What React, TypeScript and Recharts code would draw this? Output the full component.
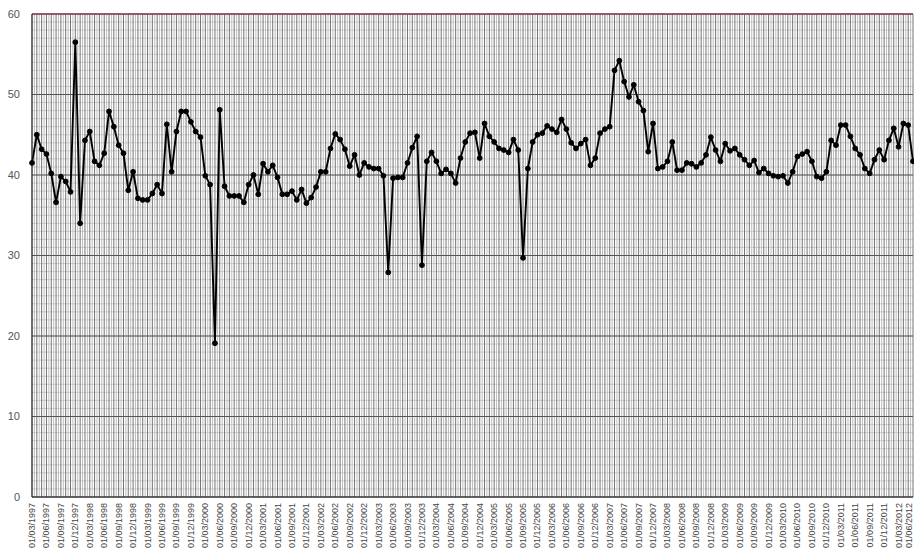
import React from 'react';
import { LineChart, Line, XAxis, YAxis, CartesianGrid, ReferenceLine } from 'recharts';

const dates = [
  '01/03/1997', '01/04/1997', '01/05/1997', '01/06/1997', '01/07/1997', '01/08/1997', '01/09/1997', '01/10/1997', '01/11/1997', '01/12/1997',
  '01/01/1998', '01/02/1998', '01/03/1998', '01/04/1998', '01/05/1998', '01/06/1998', '01/07/1998', '01/08/1998', '01/09/1998', '01/10/1998', '01/11/1998', '01/12/1998',
  '01/01/1999', '01/02/1999', '01/03/1999', '01/04/1999', '01/05/1999', '01/06/1999', '01/07/1999', '01/08/1999', '01/09/1999', '01/10/1999', '01/11/1999', '01/12/1999',
  '01/01/2000', '01/02/2000', '01/03/2000', '01/04/2000', '01/05/2000', '01/06/2000', '01/07/2000', '01/08/2000', '01/09/2000', '01/10/2000', '01/11/2000', '01/12/2000',
  '01/01/2001', '01/02/2001', '01/03/2001', '01/04/2001', '01/05/2001', '01/06/2001', '01/07/2001', '01/08/2001', '01/09/2001', '01/10/2001', '01/11/2001', '01/12/2001',
  '01/01/2002', '01/02/2002', '01/03/2002', '01/04/2002', '01/05/2002', '01/06/2002', '01/07/2002', '01/08/2002', '01/09/2002', '01/10/2002', '01/11/2002', '01/12/2002',
  '01/01/2003', '01/02/2003', '01/03/2003', '01/04/2003', '01/05/2003', '01/06/2003', '01/07/2003', '01/08/2003', '01/09/2003', '01/10/2003', '01/11/2003', '01/12/2003',
  '01/01/2004', '01/02/2004', '01/03/2004', '01/04/2004', '01/05/2004', '01/06/2004', '01/07/2004', '01/08/2004', '01/09/2004', '01/10/2004', '01/11/2004', '01/12/2004',
  '01/01/2005', '01/02/2005', '01/03/2005', '01/04/2005', '01/05/2005', '01/06/2005', '01/07/2005', '01/08/2005', '01/09/2005', '01/10/2005', '01/11/2005', '01/12/2005',
  '01/01/2006', '01/02/2006', '01/03/2006', '01/04/2006', '01/05/2006', '01/06/2006', '01/07/2006', '01/08/2006', '01/09/2006', '01/10/2006', '01/11/2006', '01/12/2006',
  '01/01/2007', '01/02/2007', '01/03/2007', '01/04/2007', '01/05/2007', '01/06/2007', '01/07/2007', '01/08/2007', '01/09/2007', '01/10/2007', '01/11/2007', '01/12/2007',
  '01/01/2008', '01/02/2008', '01/03/2008', '01/04/2008', '01/05/2008', '01/06/2008', '01/07/2008', '01/08/2008', '01/09/2008', '01/10/2008', '01/11/2008', '01/12/2008',
  '01/01/2009', '01/02/2009', '01/03/2009', '01/04/2009', '01/05/2009', '01/06/2009', '01/07/2009', '01/08/2009', '01/09/2009', '01/10/2009', '01/11/2009', '01/12/2009',
  '01/01/2010', '01/02/2010', '01/03/2010', '01/04/2010', '01/05/2010', '01/06/2010', '01/07/2010', '01/08/2010', '01/09/2010', '01/10/2010', '01/11/2010', '01/12/2010',
  '01/01/2011', '01/02/2011', '01/03/2011', '01/04/2011', '01/05/2011', '01/06/2011', '01/07/2011', '01/08/2011', '01/09/2011', '01/10/2011', '01/11/2011', '01/12/2011',
  '01/01/2012', '01/02/2012', '01/03/2012', '01/04/2012', '01/05/2012', '01/06/2012',
];

const values = [
  41.5, 45.0, 43.2, 42.6, 40.2, 36.6, 39.8, 39.2, 37.9, 56.5,
  34.0, 44.3, 45.4, 41.7, 41.2, 42.7, 47.9, 46.0, 43.7, 42.7,
  38.1, 40.4, 37.1, 36.9, 36.9, 37.7, 38.8, 37.7, 46.3, 40.4,
  45.4, 47.9, 47.9, 46.6, 45.4, 44.7, 39.9, 38.8, 19.1, 48.1,
  38.6, 37.4, 37.4, 37.4, 36.6, 38.8, 40.0, 37.6, 41.4, 40.4,
  41.2, 39.7, 37.6, 37.6, 38.0, 36.9, 38.2, 36.5, 37.2, 38.5,
  40.4, 40.4, 43.3, 45.1, 44.4, 43.2, 41.1, 42.5, 40.0, 41.5,
  41.0, 40.8, 40.8, 39.9, 27.9, 39.6, 39.7, 39.7, 41.5, 43.4,
  44.8, 28.8, 41.7, 42.8, 41.7, 40.2, 40.7, 40.2, 39.0, 42.1,
  44.1, 45.2, 45.3, 42.1, 46.4, 44.8, 44.1, 43.3, 43.1, 42.8,
  44.4, 43.1, 29.7, 40.8, 44.1, 45.0, 45.2, 46.1, 45.7, 45.3,
  46.9, 45.7, 44.0, 43.3, 43.9, 44.4, 41.2, 42.1, 45.2, 45.7,
  46.0, 53.0, 54.2, 51.6, 49.7, 51.2, 49.1, 48.0, 42.9, 46.4,
  40.8, 41.0, 41.7, 44.1, 40.6, 40.6, 41.5, 41.4, 41.0, 41.5,
  42.5, 44.7, 43.1, 41.7, 43.9, 43.0, 43.3, 42.5, 41.9, 41.2,
  41.8, 40.3, 40.8, 40.2, 39.9, 39.8, 39.9, 39.0, 40.4, 42.3,
  42.6, 42.9, 41.7, 39.8, 39.6, 40.4, 44.3, 43.7, 46.2, 46.2,
  44.8, 43.3, 42.5, 40.8, 40.2, 41.9, 43.1, 41.9, 44.3, 45.8,
  43.5, 46.4, 46.2, 41.7,
];

const yTicks = [0, 10, 20, 30, 40, 50, 60];

const data = dates.map((date, i) => ({ date, value: values[i] }));

const FONT = '"Liberation Sans", Arial, sans-serif';
const CHART_W = 914;

const DateTick = (props: any) => {
  const { x, y, payload } = props;
  // keep the last label inside the picture
  const shift = Math.min(0, CHART_W - 5 - x);
  return (
    <g transform={`translate(${x + shift},${y})`}>
      <text
        transform="rotate(-90)"
        x={-4}
        y={3}
        textAnchor="end"
        fontSize={9}
        fontFamily={FONT}
        style={{ fill: '#444' }}
      >
        {payload.value}
      </text>
    </g>
  );
};

// faint lines every unit
const minorRows = ({ offset }: any) => {
  const out: number[] = [];
  for (let v = 1; v < 60; v++) out.push(offset.top + offset.height * (1 - v / 60));
  return out;
};

const columnLines = (half: boolean) => ({ offset }: any) => {
  const n = dates.length - 1;
  const step = offset.width / n;
  const out: number[] = [];
  for (let i = 0; i <= n; i++) {
    const x = offset.left + i * step + (half ? step / 2 : 0);
    if (x <= offset.left + offset.width) out.push(x);
  }
  return out;
};

export default function App() {
  return (
    <div style={{ position: 'absolute', left: 0, top: 0, background: '#fff' }}>
      <LineChart
        width={CHART_W}
        height={551}
        data={data}
        margin={{ top: 14, right: 1, left: 0, bottom: 0 }}
      >
        <CartesianGrid vertical={false} horizontalCoordinatesGenerator={minorRows} stroke="#d0d0d0" />
        <CartesianGrid horizontal={false} verticalCoordinatesGenerator={columnLines(true)} stroke="#bdbdbd" />
        <CartesianGrid horizontal={false} verticalCoordinatesGenerator={columnLines(false)} stroke="#747474" />
        <CartesianGrid vertical={false} stroke="#555" />
        <XAxis
          dataKey="date"
          interval={2}
          height={54}
          tick={<DateTick />}
          tickLine={false}
          tickSize={0}
          stroke="#222"
        />
        <YAxis
          width={32}
          domain={[0, 60]}
          ticks={yTicks}
          interval={0}
          tickLine={false}
          tickMargin={6}
          stroke="#222"
          tick={{ fontSize: 11, fill: '#555', fontFamily: FONT }}
        />
        <ReferenceLine y={60} stroke="#8e4556" strokeWidth={1.5} />
        <Line
          type="linear"
          dataKey="value"
          stroke="#000"
          strokeWidth={1.9}
          dot={{ r: 2.4, fill: '#000', stroke: '#000', strokeWidth: 1 }}
          isAnimationActive={false}
        />
      </LineChart>
    </div>
  );
}
